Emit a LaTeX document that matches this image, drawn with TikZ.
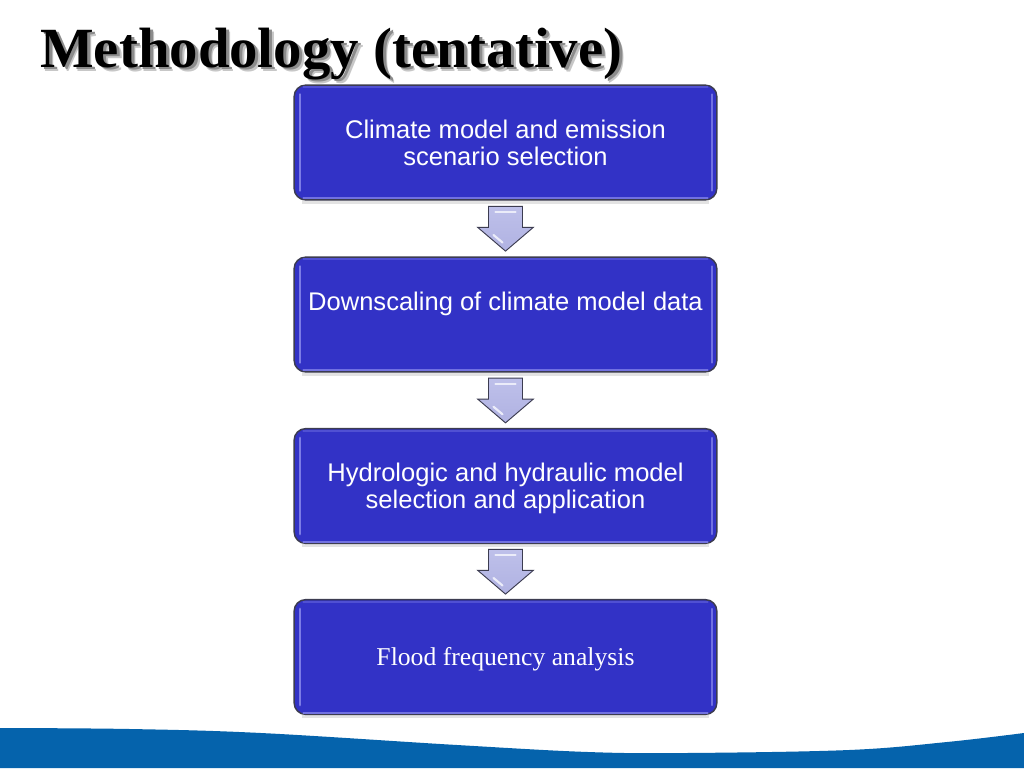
\documentclass[tikz,border=0pt]{standalone}
\usepackage{fontspec}
\setmainfont{Liberation Serif}
\newfontfamily\arialfont{Liberation Sans}
\usetikzlibrary{shapes.arrows,calc}
\definecolor{boxblue}{HTML}{3232C6}
\definecolor{boxedge}{HTML}{3C3C50}
\definecolor{boxlight}{HTML}{7C7CE6}
\definecolor{arrowtop}{HTML}{BEC0EA}
\definecolor{arrowlow}{HTML}{B0B2E2}
\definecolor{bandblue}{HTML}{0563AC}
\tikzset{
  x=0.75pt,y=-0.75pt,
  flowbox/.style={draw=boxedge,line width=1.1pt,fill=boxblue,rounded corners=8.5pt,
    minimum width=317pt,minimum height=86pt,inner sep=0pt,text=white,align=center,
    font=\arialfont\fontsize{19.15pt}{20.2pt}\selectfont},
  serifbox/.style={flowbox,font=\fontsize{19.25pt}{20pt}\selectfont},
  softshadow/.style={fill=black!11},
  glossbar/.style={line cap=round,line width=2pt,draw=boxlight},
  glossthin/.style={line cap=round,line width=1.5pt,draw=boxlight!85!boxblue},
  glosstop/.style={line cap=round,line width=1.5pt,draw=boxlight!40!boxblue},
  downarrow/.style={single arrow,draw=boxedge,line width=0.7pt,top color=arrowtop,bottom color=arrowlow,
    shape border rotate=270,minimum height=33.5pt,minimum width=41pt,
    single arrow head extend=8.1pt,single arrow head indent=0pt,single arrow tip angle=99,
    inner xsep=12.4pt,inner ysep=0pt,yshift=5.25pt},
  shine/.style={line cap=round,line width=1.6pt,draw=white!70!arrowtop},
  title/.style={anchor=base west,font=\bfseries\fontsize{42.6pt}{46pt}\selectfont,inner sep=0pt},
}
\newcommand{\shinebars}[1]{%
  \draw[glossbar] ($(#1.north west)+(6.5,10)$) -- ($(#1.south west)+(6.5,-10)$);
  \draw[glossthin] ($(#1.north east)+(-6,10)$) -- ($(#1.south east)+(-6,-10)$);
  \draw[glosstop] ($(#1.north west)+(10,3)$) -- ($(#1.north east)+(-10,3)$);
  \draw[glossthin] ($(#1.south west)+(10,-2.5)$) -- ($(#1.south east)+(-10,-2.5)$);
}
\newcommand{\arrowshine}[1]{%
  \draw[shine] ($(#1.center)+(-10,-9.5)$) -- ($(#1.center)+(10,-9.5)$);
  \draw[shine] ($(#1.center)+(-12,13.5)$) -- ($(#1.center)+(-3,21)$);
}
\begin{document}
\begin{tikzpicture}
\useasboundingbox (0,0) rectangle (1024,768);
\fill[white] (0,0) rectangle (1024,768);
% bottom band
\fill[bandblue] plot[smooth,tension=0.6] coordinates {(0,728) (130,729) (261,733) (457,745) (588,752) (686,753) (849,750) (947,742) (1024,733)}
  -- (1024,768) -- (0,768) -- cycle;
% title
\node[title,text=black!22] at (44.5,71) {Methodology (tentative)};
\node[title,text=black!45] at (43,69.5) {Methodology (tentative)};
\node[title,text=black] (ttl) at (40,67) {Methodology (tentative)};
% boxes
\path (505.5,142.5) coordinate (p1) (505.5,314.5) coordinate (p2) (505.5,486) coordinate (p3) (505.5,657) coordinate (p4);
\fill[softshadow] (302,200) rectangle (709,204);
\fill[softshadow] (302,372) rectangle (709,376);
\fill[softshadow] (302,543) rectangle (709,547);
\fill[softshadow] (302,714) rectangle (709,718);
\node[flowbox] (a) at (p1) {Climate model and emission\\scenario selection};
\node[flowbox] (b) at (p2) {Downscaling of climate model data\\~};
\node[flowbox] (c) at (p3) {\rule{0pt}{17pt}Hydrologic and hydraulic model\\selection and application};
\node[serifbox] (d) at (p4) {\rule{0pt}{17pt}Flood frequency analysis};
\shinebars{a}\shinebars{b}\shinebars{c}\shinebars{d}
% connectors
\path (a.south) -- node[downarrow,pos=0.5] (ab) {} (b.north);
\path (b.south) -- node[downarrow,pos=0.5] (bc) {} (c.north);
\path (c.south) -- node[downarrow,pos=0.5] (cd) {} (d.north);
\arrowshine{ab}\arrowshine{bc}\arrowshine{cd}
\end{tikzpicture}
\end{document}
